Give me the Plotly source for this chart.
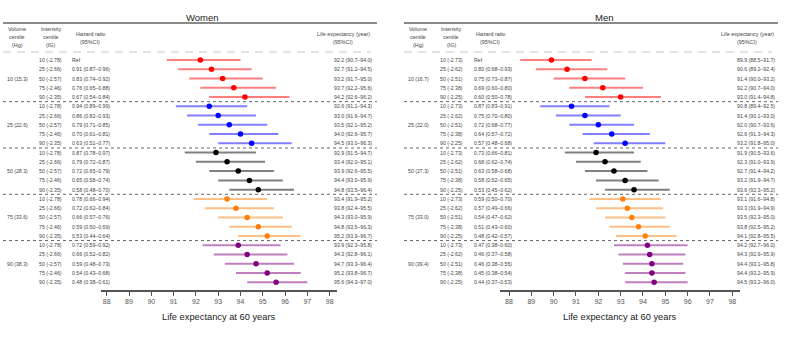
import plotly.graph_objects as go

# ---- data -------------------------------------------------------------
volume_women = ["10 (15.3)", "25 (22.6)", "50 (28.3)", "75 (33.6)", "90 (38.3)"]
volume_men = ["10 (16.7)", "25 (22.0)", "50 (27.3)", "75 (33.0)", "90 (39.4)"]
intensity_women = ["10 (-2.78)", "25 (-2.66)", "50 (-2.57)", "75 (-2.46)", "90 (-2.35)"]
intensity_men = ["10 (-2.73)", "25 (-2.62)", "50 (-2.51)", "75 (-2.38)", "90 (-2.25)"]

hr_women = [
    "Ref", "0.91 (0.87–0.96)", "0.83 (0.74–0.92)", "0.76 (0.65–0.88)", "0.67 (0.54–0.84)",
    "0.94 (0.89–0.99)", "0.86 (0.82–0.93)", "0.79 (0.71–0.85)", "0.70 (0.61–0.81)", "0.63 (0.51–0.77)",
    "0.87 (0.78–0.97)", "0.79 (0.72–0.87)", "0.72 (0.65–0.79)", "0.65 (0.58–0.74)", "0.58 (0.48–0.70)",
    "0.78 (0.66–0.94)", "0.72 (0.62–0.84)", "0.66 (0.57–0.76)", "0.59 (0.50–0.69)", "0.53 (0.44–0.64)",
    "0.72 (0.59–0.92)", "0.66 (0.52–0.82)", "0.59 (0.48–0.73)", "0.54 (0.43–0.68)", "0.48 (0.38–0.61)",
]
hr_men = [
    "Ref", "0.80 (0.68–0.93)", "0.75 (0.73–0.87)", "0.69 (0.60–0.80)", "0.60 (0.50–0.78)",
    "0.87 (0.83–0.91)", "0.75 (0.70–0.80)", "0.72 (0.68–0.77)", "0.64 (0.57–0.72)", "0.57 (0.48–0.68)",
    "0.73 (0.66–0.81)", "0.68 (0.62–0.74)", "0.63 (0.58–0.68)", "0.58 (0.52–0.65)", "0.53 (0.45–0.62)",
    "0.59 (0.50–0.70)", "0.57 (0.49–0.66)", "0.54 (0.47–0.62)", "0.51 (0.43–0.60)", "0.48 (0.42–0.57)",
    "0.47 (0.38–0.60)", "0.46 (0.37–0.58)", "0.46 (0.38–0.55)", "0.45 (0.38–0.54)", "0.44 (0.37–0.53)",
]

le_women = [92.2, 92.7, 93.2, 93.7, 94.2,
            92.6, 93.0, 93.5, 94.0, 94.5,
            92.9, 93.4, 93.9, 94.4, 94.8,
            93.4, 93.8, 94.3, 94.8, 95.2,
            93.9, 94.3, 94.7, 95.2, 95.6]
lo_women = [90.7, 91.2, 91.7, 92.2, 92.6,
            91.1, 91.6, 92.1, 92.6, 93.0,
            91.5, 92.0, 92.6, 93.0, 93.5,
            91.9, 92.4, 93.0, 93.5, 93.9,
            92.3, 92.8, 93.3, 93.8, 94.3]
hi_women = [94.0, 94.5, 95.0, 95.6, 96.2,
            94.3, 94.7, 95.2, 95.7, 96.3,
            94.7, 95.1, 95.5, 95.9, 96.4,
            95.2, 95.5, 95.9, 96.3, 96.7,
            95.8, 96.1, 96.4, 96.7, 97.0]

le_men = [89.9, 90.6, 91.4, 92.2, 93.0,
          90.8, 91.4, 92.0, 92.6, 93.2,
          91.9, 92.3, 92.7, 93.2, 93.6,
          93.1, 93.3, 93.5, 93.8, 94.1,
          94.2, 94.3, 94.4, 94.4, 94.5]
lo_men = [88.5, 89.2, 90.0, 90.7, 91.4,
          89.4, 90.1, 90.7, 91.3, 91.8,
          90.5, 91.0, 91.4, 91.9, 92.3,
          91.6, 91.9, 92.3, 92.5, 92.8,
          92.7, 92.9, 93.1, 93.2, 93.2]
hi_men = [91.7, 92.4, 93.2, 94.0, 94.8,
          92.5, 93.0, 93.6, 94.3, 95.0,
          93.6, 93.9, 94.2, 94.7, 95.2,
          94.8, 94.9, 95.0, 95.2, 95.5,
          96.0, 95.9, 95.8, 95.9, 96.0]

tick_vals = [88, 89, 90, 91, 92, 93, 94, 95, 96, 97, 98]

# ---- styling ------------------------------------------------------------
W, H = 800, 343
FONT = "Arial, Liberation Sans, sans-serif"
TXT = "#444444"
group_colors = [(255, 0, 0), (0, 0, 255), (0, 0, 0), (255, 127, 14), (128, 0, 128)]
ROW0, ROWSTEP = 60.0, 9.26


def row_y(p):
    """Convert a pixel row from the top of the page into row units."""
    return (p - ROW0) / ROWSTEP


def px(x):
    return x / W


rows = list(range(25))
fig = go.Figure()

panels = [
    dict(name="Women", xa="x", le=le_women, lo=lo_women, hi=hi_women, hr=hr_women,
         vol=volume_women, inten=intensity_women,
         left=3, right=377, title_x=203,
         vol_x=17, int_x=50.5, hr_x=70, hrh_x=90, le_x=374, leh_x=343, axt_x=219),
    dict(name="Men", xa="x2", le=le_men, lo=lo_men, hi=hi_men, hr=hr_men,
         vol=volume_men, inten=intensity_men,
         left=404, right=778, title_x=604,
         vol_x=418, int_x=451, hr_x=472, hrh_x=490, le_x=777, leh_x=747, axt_x=620),
]

annotations = []
shapes = []


def add_text(x, y, text, size=5.2, anchor="center", color=TXT):
    annotations.append(dict(x=px(x), y=y, xref="paper", yref="y", text=text,
                            showarrow=False, xanchor=anchor, yanchor="middle",
                            font=dict(family=FONT, size=size, color=color)))


for p in panels:
    # estimates with confidence intervals
    for g in range(5):
        idx = rows[g * 5:(g + 1) * 5]
        r, gg, b = group_colors[g]
        le = [p["le"][i] for i in idx]
        lo = [p["lo"][i] for i in idx]
        hi = [p["hi"][i] for i in idx]
        fig.add_trace(go.Scatter(
            x=le, y=idx, xaxis=p["xa"], yaxis="y", mode="markers",
            marker=dict(size=5.5, color=f"rgb({r},{gg},{b})"),
            error_x=dict(type="data", symmetric=False,
                         array=[h - m for h, m in zip(hi, le)],
                         arrayminus=[m - l for m, l in zip(le, lo)],
                         color=f"rgba({r},{gg},{b},0.5)", thickness=2, width=0),
            showlegend=False, hoverinfo="skip"))

    # panel title and rules
    add_text(p["title_x"], row_y(17), p["name"], size=9.5, color="#222222")
    shapes.append(dict(type="line", xref="paper", yref="y", x0=px(p["left"]), x1=px(p["right"]),
                       y0=row_y(23), y1=row_y(23), line=dict(color="#8a8a8a", width=2)))
    shapes.append(dict(type="line", xref="paper", yref="y", x0=px(p["left"]), x1=px(p["right"] - 6),
                       y0=row_y(52), y1=row_y(52),
                       line=dict(color="#c8c8c8", width=1, dash="8px,6px")))
    for s in (4.5, 9.5, 14.5, 19.5):
        shapes.append(dict(type="line", xref="paper", yref="y", x0=px(p["left"]), x1=px(p["right"]),
                           y0=s, y1=s, line=dict(color="#666666", width=1, dash="3px,3px")))

    # column headers
    for k, line in enumerate(["Volume", "centile", "(Hg)"]):
        add_text(p["vol_x"], row_y(29 + 8 * k), line, size=5.4)
    for k, line in enumerate(["Intensity", "centile", "(IG)"]):
        add_text(p["int_x"], row_y(29 + 8 * k), line, size=5.4)
    for k, line in enumerate(["Hazard ratio", "(95%CI)"]):
        add_text(p["hrh_x"], row_y(34 + 8 * k), line, size=5.4)
    for k, line in enumerate(["Life expectancy (year)", "(95%CI)"]):
        add_text(p["leh_x"], row_y(34 + 8 * k), line, size=5.4)

    # table rows
    for g in range(5):
        add_text(p["vol_x"], g * 5 + 2, p["vol"][g])
    for i in rows:
        add_text(p["int_x"], i, p["inten"][i % 5])
        add_text(p["hr_x"], i, p["hr"][i], anchor="left")
        add_text(p["le_x"], i, f"{p['le'][i]:.1f} ({p['lo'][i]:.1f}–{p['hi'][i]:.1f})", anchor="right")

    # axis title
    add_text(p["axt_x"], row_y(317), "Life expectancy at 60 years", size=9.3, color="#222222")

axis_common = dict(
    anchor="free", position=(H - 291) / H, tickmode="array", tickvals=tick_vals,
    showgrid=False, zeroline=False, showline=True, linecolor="#555555", linewidth=1.5,
    ticks="outside", ticklen=4, tickcolor="#555555", tickwidth=1,
    tickfont=dict(family=FONT, size=7, color="#555555"), fixedrange=True,
)

fig.update_layout(
    width=W, height=H, margin=dict(l=0, r=0, t=0, b=0),
    paper_bgcolor="white", plot_bgcolor="white",
    xaxis=dict(domain=[101 / W, 337 / W], range=[87.744, 98.33], **axis_common),
    xaxis2=dict(domain=[500 / W, 740 / W], range=[87.597, 98.345], **axis_common),
    yaxis=dict(domain=[0, 1], range=[row_y(H), row_y(0)], visible=False, fixedrange=True),
    annotations=annotations, shapes=shapes, showlegend=False,
)

fig.write_html("out.html")
